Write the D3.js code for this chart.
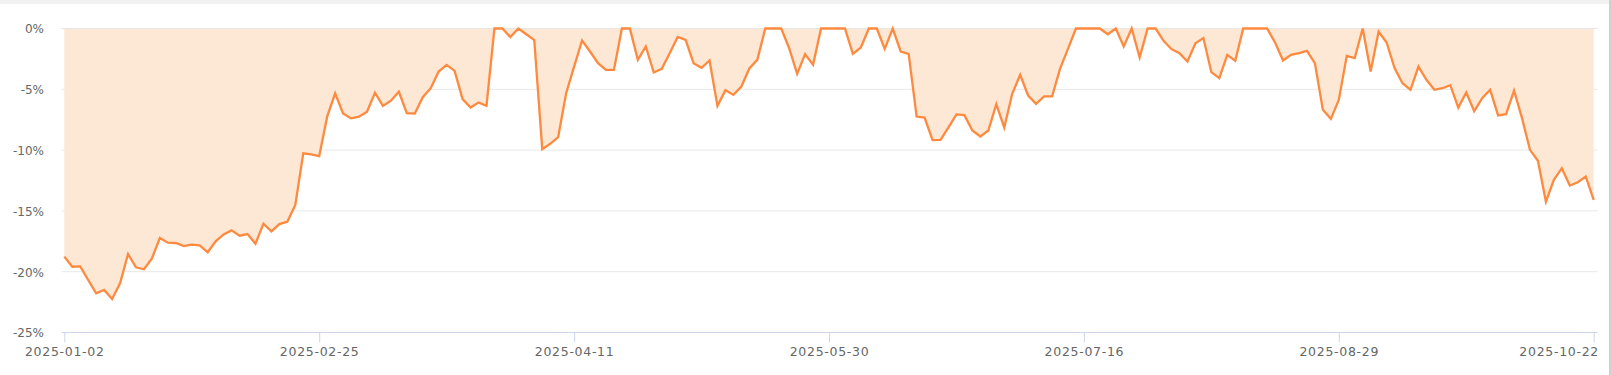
<!DOCTYPE html>
<html>
<head>
<meta charset="utf-8">
<script src="https://cdn.jsdelivr.net/npm/d3@7/dist/d3.min.js"></script>
<style>
  html, body { margin: 0; padding: 0; background: #fff; }
  svg { display: block; }
</style>
</head>
<body>
<svg id="chart" width="1611" height="375"></svg>
<script>
// ---- Data ----
const dates = [
  "2025-01-02","2025-01-03","2025-01-06","2025-01-07","2025-01-08","2025-01-09","2025-01-10",
  "2025-01-13","2025-01-14","2025-01-15","2025-01-16","2025-01-17","2025-01-20","2025-01-21",
  "2025-01-22","2025-01-23","2025-01-24","2025-01-27",
  "2025-02-05","2025-02-06","2025-02-07","2025-02-10","2025-02-11","2025-02-12","2025-02-13",
  "2025-02-14","2025-02-17","2025-02-18","2025-02-19","2025-02-20","2025-02-21","2025-02-24",
  "2025-02-25","2025-02-26","2025-02-27","2025-02-28",
  "2025-03-03","2025-03-04","2025-03-05","2025-03-06","2025-03-07","2025-03-10","2025-03-11",
  "2025-03-12","2025-03-13","2025-03-14","2025-03-17","2025-03-18","2025-03-19","2025-03-20",
  "2025-03-21","2025-03-24","2025-03-25","2025-03-26","2025-03-27","2025-03-28","2025-03-31",
  "2025-04-01","2025-04-02","2025-04-03","2025-04-07","2025-04-08","2025-04-09","2025-04-10",
  "2025-04-11","2025-04-14","2025-04-15","2025-04-16","2025-04-17","2025-04-18","2025-04-21",
  "2025-04-22","2025-04-23","2025-04-24","2025-04-25","2025-04-28","2025-04-29","2025-04-30",
  "2025-05-06","2025-05-07","2025-05-08","2025-05-09","2025-05-12","2025-05-13","2025-05-14",
  "2025-05-15","2025-05-16","2025-05-19","2025-05-20","2025-05-21","2025-05-22","2025-05-23",
  "2025-05-26","2025-05-27","2025-05-28","2025-05-29","2025-05-30",
  "2025-06-03","2025-06-04","2025-06-05","2025-06-06","2025-06-09","2025-06-10","2025-06-11",
  "2025-06-12","2025-06-13","2025-06-16","2025-06-17","2025-06-18","2025-06-19","2025-06-20",
  "2025-06-23","2025-06-24","2025-06-25","2025-06-26","2025-06-27","2025-06-30",
  "2025-07-01","2025-07-02","2025-07-03","2025-07-04","2025-07-07","2025-07-08","2025-07-09",
  "2025-07-10","2025-07-11","2025-07-14","2025-07-15","2025-07-16","2025-07-17","2025-07-18",
  "2025-07-21","2025-07-22","2025-07-23","2025-07-24","2025-07-25","2025-07-28","2025-07-29",
  "2025-07-30","2025-07-31",
  "2025-08-01","2025-08-04","2025-08-05","2025-08-06","2025-08-07","2025-08-08","2025-08-11",
  "2025-08-12","2025-08-13","2025-08-14","2025-08-15","2025-08-18","2025-08-19","2025-08-20",
  "2025-08-21","2025-08-22","2025-08-25","2025-08-26","2025-08-27","2025-08-28","2025-08-29",
  "2025-09-01","2025-09-02","2025-09-03","2025-09-04","2025-09-05","2025-09-08","2025-09-09",
  "2025-09-10","2025-09-11","2025-09-12","2025-09-15","2025-09-16","2025-09-17","2025-09-18",
  "2025-09-19","2025-09-22","2025-09-23","2025-09-24","2025-09-25","2025-09-26","2025-09-29",
  "2025-09-30",
  "2025-10-09","2025-10-10","2025-10-13","2025-10-14","2025-10-15","2025-10-16","2025-10-17",
  "2025-10-20","2025-10-21","2025-10-22"
];

const drawdown = [
  -18.76,-19.59,-19.56,-20.68,-21.78,-21.5,-22.25,-20.96,-18.55,-19.64,
  -19.8,-18.9,-17.23,-17.61,-17.64,-17.89,-17.78,-17.83,-18.4,-17.5,
  -16.93,-16.6,-17.04,-16.9,-17.7,-16.05,-16.68,-16.08,-15.89,-14.51,
  -10.27,-10.35,-10.49,-7.25,-5.33,-6.98,-7.39,-7.25,-6.84,-5.28,
  -6.37,-5.94,-5.2,-6.96,-6.99,-5.65,-4.91,-3.54,-2.99,-3.48,
  -5.81,-6.5,-6.09,-6.36,0,0,-0.71,0,-0.47,-0.96,
  -9.92,-9.48,-8.94,-5.32,-3.13,-0.99,-1.89,-2.85,-3.4,-3.4,
  0,0,-2.58,-1.48,-3.62,-3.32,-2.03,-0.69,-0.93,-2.85,
  -3.23,-2.63,-6.36,-5.07,-5.46,-4.77,-3.29,-2.58,0,0,
  0,-1.62,-3.73,-2.11,-2.99,0,0,0,0,-2.08,
  -1.56,0,0,-1.67,0,-1.89,-2.08,-7.24,-7.32,-9.18,
  -9.16,-8.14,-7.07,-7.13,-8.39,-8.88,-8.39,-6.22,-8.14,-5.37,
  -3.81,-5.51,-6.2,-5.59,-5.59,-3.32,-1.67,0,0,0,
  0,-0.47,0,-1.48,0,-2.38,0,0,-1.01,-1.7,
  -2.03,-2.71,-1.21,-0.79,-3.59,-4.08,-2.17,-2.66,0,0,
  0,0,-1.15,-2.63,-2.17,-2.03,-1.84,-2.85,-6.69,-7.43,
  -5.87,-2.25,-2.44,0,-3.54,-0.25,-1.15,-3.26,-4.5,-5.04,
  -3.13,-4.22,-5.04,-4.91,-4.66,-6.5,-5.26,-6.8,-5.73,-5.04,
  -7.15,-7.05,-5.1,-7.37,-9.98,-10.88,-14.24,-12.44,-11.49,-12.91,
  -12.64,-12.17,-14.1
];

const yTicks = [0, -5, -10, -15, -20, -25];
const xTickLabels = ["2025-01-02","2025-02-25","2025-04-11","2025-05-30","2025-07-16","2025-08-29","2025-10-22"];

// ---- Layout ----
const W = 1611, H = 375;
const gridLeft = 61.5, gridRight = 1597.5;
const dataLeft = 64.3, dataRight = 1593.7;
const yTop = 28.5, yBottom = 332.5;

const svg = d3.select("#chart");

// page chrome
svg.append("rect").attr("x", 0).attr("y", 0).attr("width", W).attr("height", 4).attr("fill", "#f2f2f2");
svg.append("rect").attr("x", 1609).attr("y", 0).attr("width", 2).attr("height", H).attr("fill", "#d0d0d0");

const x = d3.scalePoint().domain(dates).range([dataLeft, dataRight]);
const y = d3.scaleLinear().domain([-25, 0]).range([yBottom, yTop]);

// grid lines
svg.append("g").selectAll("line")
  .data(yTicks.filter(d => d !== -25))
  .join("line")
  .attr("x1", gridLeft).attr("x2", gridRight)
  .attr("y1", d => y(d)).attr("y2", d => y(d))
  .attr("stroke", "#e8e8e8").attr("stroke-width", 1);

// area
const area = d3.area()
  .x((d, i) => x(dates[i]))
  .y0(y(0))
  .y1(d => y(d));
svg.append("path")
  .datum(drawdown)
  .attr("d", area)
  .attr("fill", "#fde8d6");

// redraw 0% grid line on top of fill
svg.append("line")
  .attr("x1", gridLeft).attr("x2", gridRight)
  .attr("y1", y(0)).attr("y2", y(0))
  .attr("stroke", "#e6e6e6").attr("stroke-width", 1);

// line
const line = d3.line()
  .x((d, i) => x(dates[i]))
  .y(d => y(d));
svg.append("path")
  .datum(drawdown)
  .attr("d", line)
  .attr("fill", "none")
  .attr("stroke", "#fd8a3f")
  .attr("stroke-width", 2.3)
  .attr("stroke-linejoin", "miter");

// y axis labels
const yAxis = d3.axisLeft(y).tickValues(yTicks).tickSize(0).tickPadding(0)
  .tickFormat(d => d + "%");
const gy = svg.append("g").attr("transform", "translate(44,0)").call(yAxis);
gy.select(".domain").remove();
gy.selectAll("text")
  .attr("fill", "#666666")
  .attr("font-family", "DejaVu Sans, Verdana, sans-serif")
  .attr("font-size", 12)
  .attr("dy", "0.36em");

// x axis
const xAxis = d3.axisBottom(x).tickValues(xTickLabels).tickSize(10).tickPadding(4);
const gx = svg.append("g").attr("transform", `translate(0,${yBottom})`).call(xAxis);
gx.select(".domain").attr("d", `M${gridLeft},0H${gridRight}`).attr("stroke", "#ccd6eb").attr("stroke-width", 1);
gx.selectAll(".tick line").attr("stroke", "#ccd6eb");
gx.selectAll("text")
  .attr("fill", "#666666")
  .attr("font-family", "DejaVu Sans, Verdana, sans-serif")
  .attr("font-size", 12.5)
  .attr("letter-spacing", "0.7px")
  .attr("y", 23)
  .attr("dy", 0);
// last label is pulled inside the plot edge (right-aligned)
gx.selectAll("text")
  .filter(d => d === xTickLabels[xTickLabels.length - 1])
  .attr("text-anchor", "end")
  .attr("x", gridRight - x(xTickLabels[xTickLabels.length - 1]) + 1);
</script>
</body>
</html>
